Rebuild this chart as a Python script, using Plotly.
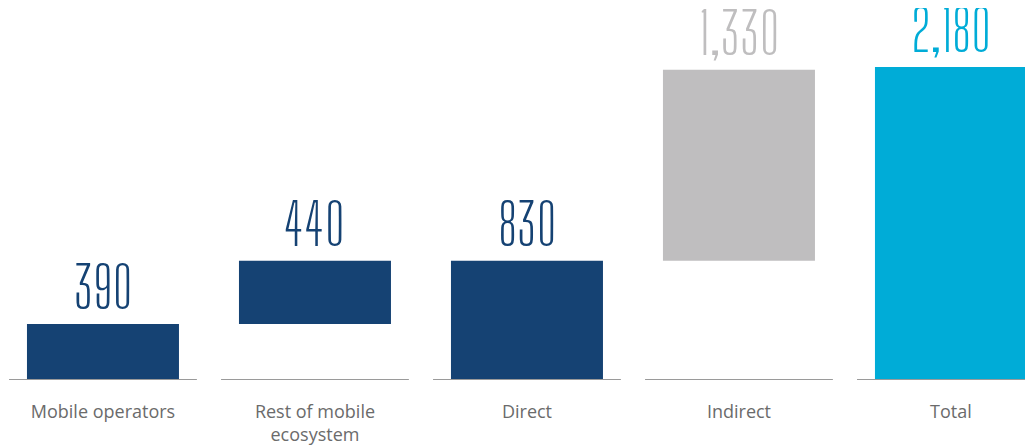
import plotly.graph_objects as go

categories = ["Mobile operators", "Rest of mobile<br>ecosystem", "Direct", "Indirect", "Total"]
bases = [0, 390, 0, 830, 0]
values = [390, 440, 830, 1330, 2180]
labels = ["390", "440", "830", "1,330", "2,180"]
colors = ["#154273", "#154273", "#154273", "#bfbebf", "#00acd7"]

fig = go.Figure()
fig.add_trace(go.Bar(
    x=list(range(len(categories))), y=values, base=bases,
    marker=dict(color=colors, line=dict(width=0)),
    width=0.717, hoverinfo="skip",
))

NUMFONT = "Big Shoulders Display, Saira ExtraCondensed, Sofia Sans Extra Condensed, sans-serif"
for i, (b, v, t, c) in enumerate(zip(bases, values, labels, colors)):
    fig.add_annotation(x=i, y=b + v, text=t, showarrow=False, yanchor="top",
                       yshift=74, font=dict(family=NUMFONT, size=58, color=c, weight=300))

for i in range(len(categories)):
    fig.add_shape(type="line", x0=i - 0.443, x1=i + 0.443, y0=0, y1=0,
                  xref="x", yref="y", line=dict(color="#9a9a9a", width=2))

fig.update_layout(
    width=1025, height=440,
    margin=dict(l=0, r=0, t=0, b=68, autoexpand=False),
    paper_bgcolor="white", plot_bgcolor="white",
    showlegend=False,
    xaxis=dict(range=[-0.448, 4.387], tickmode="array", tickvals=list(range(len(categories))),
               ticktext=categories, showgrid=False, zeroline=False, showline=False,
               ticks="", ticklabelstandoff=19, automargin=False,
               tickfont=dict(family="Open Sans, Lato, sans-serif", size=18, color="#6b6b6b")),
    yaxis=dict(range=[0, 2590], visible=False, showgrid=False, zeroline=False, automargin=False),
)

fig.write_html("out.html")
